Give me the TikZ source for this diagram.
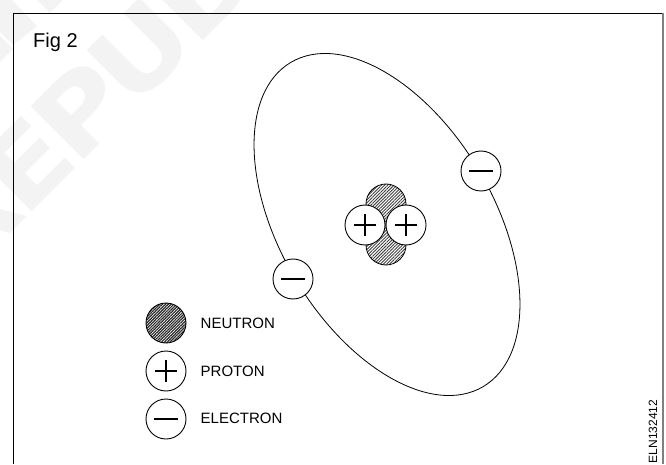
\documentclass[tikz,border=0pt]{standalone}
\usepackage{fontspec}
\setmainfont{Liberation Sans}
\newfontfamily\markfont[LetterSpace=-6]{DejaVu Sans}
\usetikzlibrary{patterns.meta}
\definecolor{markgrey}{HTML}{F3F3F3}
\tikzset{
  x=1pt,y=1pt,
  particle/.style={circle,draw=black,line width=0.9pt,minimum size=40pt,inner sep=0pt,fill=white},
  charge/.style={line width=1.7pt,black},
  plusmark/.style={particle,path picture={
    \draw[charge] ([xshift=-11pt]path picture bounding box.center) -- ([xshift=11pt]path picture bounding box.center);
    \draw[charge] ([yshift=-11pt]path picture bounding box.center) -- ([yshift=11pt]path picture bounding box.center);}},
  minusmark/.style={particle,path picture={
    \draw[charge] ([xshift=-12pt]path picture bounding box.center) -- ([xshift=12pt]path picture bounding box.center);}},
  neutronlight/.style={circle,draw=black,line width=0.8pt,minimum size=40pt,inner sep=0pt,
    pattern={Lines[angle=45,distance=2.2pt,line width=0.9pt]},pattern color=black!75},
  neutrondark/.style={circle,draw=black,line width=0.9pt,minimum size=40pt,inner sep=0pt,fill=black!35,
    pattern={Lines[angle=45,distance=2pt,line width=1.2pt]},pattern color=black!85},
  legendlabel/.style={anchor=west,inner sep=0pt,font=\fontsize{15}{15}\selectfont},
  watermark/.style={rotate=45,xscale=1.15,anchor=base west,inner sep=0pt,text=markgrey,
    font=\markfont\fontsize{103}{103}\selectfont\bfseries},
}
\begin{document}
\begin{tikzpicture}
\useasboundingbox (0,0) rectangle (666,464);
\begin{scope}
  \clip (0,0) rectangle (666,464);
  \node[watermark] (mark) at (-35.4,184.6) {REPUBLIC};
  \fill[markgrey] (0,464) -- (12,464) -- (37,438) -- (13,419) -- (0,432) -- cycle;
  \fill[markgrey] (0,428) -- (13,415) -- (0,402) -- cycle;
  \fill[markgrey] (37,464) -- (50,451) -- (63,464) -- cycle;
\end{scope}
% open frame: no lower edge
\draw[line width=1pt,black] (13.5,0) -- (13.5,450.5) -- (662.5,450.5);
\draw[line width=2pt,black!50] (663,451) -- (663,0);
\node[anchor=base west,inner sep=0pt,font=\fontsize{20}{20}\selectfont] (title) at (33,416) {Fig 2};
% orbit
\draw[line width=0.8pt,black] (387,239.5) ellipse[x radius=188.5,y radius=106.7,rotate=-59.3];
\node[minusmark] (e1) at (481,293) {};
\node[minusmark] (e2) at (293,185) {};
% nucleus
\node[neutronlight] (n1) at (386,260) {};
\node[neutronlight] (n2) at (386,219) {};
\node[plusmark] (p1) at (365,239) {};
\node[plusmark] (p2) at (406,239) {};
% legend
\node[neutrondark] (ln) at (166,141) {};
\node[plusmark] (lp) at (166,93) {};
\node[minusmark] (le) at (166,45) {};
\node[legendlabel] (tn) at (200.5,141) {NEUTRON};
\node[legendlabel] (tp) at (200.5,93) {PROTON};
\node[legendlabel] (te) at (200.5,45.5) {ELECTRON};
\node[rotate=90,anchor=base west,inner sep=0pt,font=\fontsize{12}{12}\selectfont] (code) at (657,0.5) {ELN132412};
\end{tikzpicture}
\end{document}
